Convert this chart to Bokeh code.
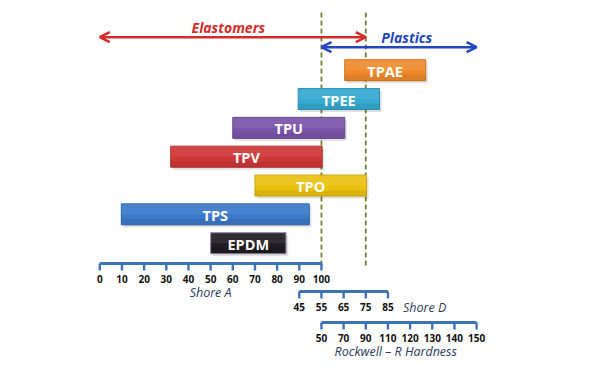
from bokeh.plotting import figure
from bokeh.models import Range1d, ColumnDataSource, Arrow, OpenHead
from bokeh.core.properties import value
from bokeh.embed import file_html
from bokeh.resources import INLINE

# ---------------- data ----------------
materials = ["TPAE", "TPEE", "TPU", "TPV", "TPO", "TPS", "EPDM"]
# hardness ranges, expressed on the common (Shore A equivalent) scale
range_start = [110.5, 89.5, 60.0, 32.0, 70.0, 9.7, 50.0]
range_end = [147.0, 126.2, 110.5, 100.3, 120.3, 94.5, 84.0]
bar_colors = ["#ee8a2c", "#35a9d0", "#7b53a8", "#cf3636", "#e9c10f", "#3b79c9", "#1f1d22"]
edge_colors = ["#d2701a", "#2a8db2", "#62408c", "#b02828", "#cca40a", "#2c62a8", "#8a86a0"]

shore_a_ticks = [0, 10, 20, 30, 40, 50, 60, 70, 80, 90, 100]
shore_d_ticks = [45, 55, 65, 75, 85]
shore_d_offset = 45          # Shore D 55 lines up with Shore A 100
rockwell_ticks = [50, 70, 90, 110, 120, 130, 140, 150]
rockwell_start = 100         # Rockwell 50 lines up with Shore A 100

elastomer_span = [0, 120]
plastic_span = [100, 170]
boundaries = [100, 120]

# ---------------- layout ----------------
W, H = 600, 369
PX_PER_UNIT = 2.2165
X0_PX = 99.3
ROW0, ROWH, BAR_H = 69.7, 28.83, 21

p = figure(width=W, height=H, output_backend="svg", toolbar_location=None,
           x_axis_location=None, y_axis_location=None,
           x_range=Range1d(-X0_PX / PX_PER_UNIT, (W - X0_PX) / PX_PER_UNIT),
           y_range=Range1d(H, 0), min_border=0)
p.outline_line_color = None
p.xgrid.visible = False
p.ygrid.visible = False
p.background_fill_color = "white"
p.border_fill_color = "white"

ys = [ROW0 + ROWH * i for i in range(len(materials))]
src = ColumnDataSource(dict(
    name=materials, left=range_start, right=range_end, y=ys,
    ysh=[y + 2.5 for y in ys], lsh=[l + 1.0 for l in range_start], rsh=[r + 1.0 for r in range_end],
    yhi=[y - BAR_H * 0.25 for y in ys], ylo=[y + BAR_H * 0.36 for y in ys],
    ytx=[y + 1 for y in ys], xc=[(a + b) / 2 for a, b in zip(range_start, range_end)],
    color=bar_colors, edge=edge_colors))

# dashed boundary lines (behind bars)
for b in boundaries:
    p.line(x=[b, b], y=[12, 265], line_color="#6f7f36", line_width=1.8, line_dash="5 3")

# shadows
p.hbar(y="ysh", left="lsh", right="rsh", height=BAR_H, source=src,
       fill_color="#000000", fill_alpha=0.12, line_color=None)
# bars
p.hbar(y="y", left="left", right="right", height=BAR_H, source=src,
       fill_color="color", line_color="edge", line_width=1)
# highlight (upper part) and darker lower strip for a slight 3D look
p.hbar(y="yhi", left="left", right="right", height=BAR_H * 0.5, source=src,
       fill_color="white", fill_alpha=0.08, line_color=None)
p.hbar(y="ylo", left="left", right="right", height=BAR_H * 0.28, source=src,
       fill_color="black", fill_alpha=0.07, line_color=None)

p.text(x="xc", y="ytx", text="name", source=src, text_color="white",
       text_font=value("Open Sans"), text_font_style="bold", text_font_size="14.5px",
       text_align="center", text_baseline="middle")

# elastomer / plastic arrows
p.add_layout(Arrow(x_start=elastomer_span[0], x_end=elastomer_span[1], y_start=36.7, y_end=36.7,
                   line_color="#d42a2a", line_width=2.5,
                   start=OpenHead(size=10, line_color="#d42a2a", line_width=2.5),
                   end=OpenHead(size=10, line_color="#d42a2a", line_width=2.5)))
p.add_layout(Arrow(x_start=plastic_span[0], x_end=plastic_span[1], y_start=46.7, y_end=46.7,
                   line_color="#2346c0", line_width=2.5,
                   start=OpenHead(size=10, line_color="#2346c0", line_width=2.5),
                   end=OpenHead(size=10, line_color="#2346c0", line_width=2.5)))
p.text(x=[(elastomer_span[0] + elastomer_span[1]) / 2 - 2], y=[26.5], text=["Elastomers"],
       text_color="#d42a2a", text_font=value("Open Sans"), text_font_style="bold italic",
       text_font_size="14px", text_align="center", text_baseline="middle")
p.text(x=[(plastic_span[0] + plastic_span[1]) / 2 + 3.5], y=[36.5], text=["Plastics"],
       text_color="#2346c0", text_font=value("Open Sans"), text_font_style="bold italic",
       text_font_size="14px", text_align="center", text_baseline="middle")

# ---------------- hardness scales ----------------
AX_COLOR = "#3d72b8"
NAME_COLOR = "#2b3a5a"


def bracket(positions, labels, y_line, name=None, name_xy=None, name_align="center"):
    p.segment(x0=[positions[0]], x1=[positions[-1]], y0=[y_line], y1=[y_line],
              line_color=AX_COLOR, line_width=2.8)
    p.segment(x0=positions, x1=positions, y0=[y_line] * len(positions),
              y1=[y_line + 7] * len(positions), line_color=AX_COLOR, line_width=2.4)
    p.text(x=positions, y=[y_line + 15] * len(positions), text=[str(l) for l in labels],
           text_color="#111111", text_font=value("Open Sans"), text_font_style="bold",
           text_font_size="10px", text_align="center", text_baseline="middle")
    if name:
        p.text(x=[name_xy[0]], y=[name_xy[1]], text=[name], text_color=NAME_COLOR,
               text_font=value("Open Sans"), text_font_style="italic", text_font_size="12.5px",
               text_align=name_align, text_baseline="middle")


sa_pos = shore_a_ticks
bracket(sa_pos, shore_a_ticks, 263, "Shore A", ((sa_pos[0] + sa_pos[-1]) / 2, 292))

sd_pos = [t + shore_d_offset for t in shore_d_ticks]
bracket(sd_pos, shore_d_ticks, 291, "Shore D", (sd_pos[-1] + 6.8, 306.5), "left")

rw_pos = [rockwell_start + 10 * i for i in range(len(rockwell_ticks))]
bracket(rw_pos, rockwell_ticks, 322, "Rockwell \u2013 R Hardness", ((rw_pos[0] + rw_pos[-1]) / 2 - 1.5, 350.5))

open("out.html", "w").write(file_html(p, INLINE))
